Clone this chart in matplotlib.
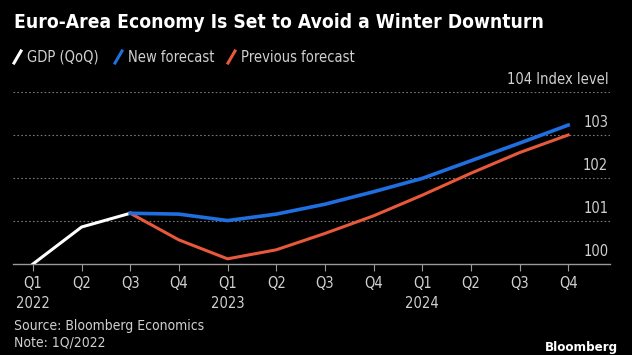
import numpy as np
import matplotlib
matplotlib.use("Agg")
import matplotlib.pyplot as plt
from matplotlib.lines import Line2D
import matplotlib.transforms as mtransforms

plt.rcParams['font.family'] = ['DejaVu Sans']
plt.rcParams['font.stretch'] = 'condensed'

quarters = ["Q1\n2022", "Q2", "Q3", "Q4", "Q1\n2023", "Q2", "Q3", "Q4",
            "Q1\n2024", "Q2", "Q3", "Q4"]
gdp = [100.0, 100.86, 101.18]
new_forecast = [101.18, 101.16, 101.01, 101.16, 101.39, 101.68, 101.99,
                102.40, 102.81, 103.23]
prev_forecast = [101.18, 100.56, 100.12, 100.33, 100.71, 101.12, 101.60,
                 102.11, 102.59, 103.00]
yticks = [100, 101, 102, 103, 104]

WHITE = "#ffffff"
BLUE = "#1f6fe0"
ORANGE = "#e8583a"
TEXT = "#d0d0d0"

fig = plt.figure(figsize=(6.32, 3.55), dpi=100, facecolor="black")
ax = fig.add_axes([13 / 632, 1 - 264 / 355, (610 - 13) / 632, (264 - 92) / 355])
ax.set_facecolor("black")

x = np.arange(len(quarters))
ax.plot(x[:3], gdp, color=WHITE, lw=2.2, zorder=3)
ax.plot(x[2:], prev_forecast, color=ORANGE, lw=2.2, zorder=3)
ax.plot(x[2:], new_forecast, color=BLUE, lw=2.6, zorder=4)

ax.set_xlim(-0.41, 11.86)
ax.set_ylim(100, 104)

# dotted gridlines
for v in yticks[1:]:
    ax.axhline(v, color="#777777", lw=0.8, ls=(0, (1.5, 2)), zorder=1)

# right-side labels sitting on the gridlines
trans = mtransforms.blended_transform_factory(ax.transAxes, ax.transData)
for v in yticks:
    label = f"{v} Index level" if v == 104 else str(v)
    ax.text(0.997, v + 0.12, label, transform=trans, ha="right", va="bottom",
            color=TEXT, fontsize=10.5)

ax.set_yticks([])
ax.set_xticks(x)
ax.set_xticklabels(quarters, color=TEXT, fontsize=10.5, linespacing=1.4)
ax.tick_params(axis="x", length=5, color="#999999", pad=4)

for side in ["top", "right", "left"]:
    ax.spines[side].set_visible(False)
ax.spines["bottom"].set_color("#999999")
ax.spines["bottom"].set_linewidth(1.0)

# title
fig.text(14 / 632, 1 - 22 / 355, "Euro-Area Economy Is Set to Avoid a Winter Downturn",
         color=WHITE, fontsize=13.8, fontweight="bold", va="center", ha="left")

# legend
legend_items = [("GDP (QoQ)", WHITE, 14), ("New forecast", BLUE, 115),
                ("Previous forecast", ORANGE, 228)]
for name, col, px in legend_items:
    fig.add_artist(Line2D([px / 632, (px + 7) / 632],
                          [1 - 63 / 355, 1 - 51 / 355],
                          color=col, lw=2.2, transform=fig.transFigure))
    fig.text((px + 13) / 632, 1 - 57 / 355, name, color=TEXT, fontsize=10.5,
             va="center", ha="left")

# footer
fig.text(14 / 632, 1 - 326 / 355, "Source: Bloomberg Economics", color=TEXT,
         fontsize=10, va="center", ha="left")
fig.text(14 / 632, 1 - 342 / 355, "Note: 1Q/2022", color=TEXT,
         fontsize=10, va="center", ha="left")
fig.text(618 / 632, 1 - 347 / 355, "Bloomberg", color=WHITE, fontsize=9.5,
         fontweight="bold", va="center", ha="right")

fig.savefig("out.png", dpi=100, facecolor="black")
